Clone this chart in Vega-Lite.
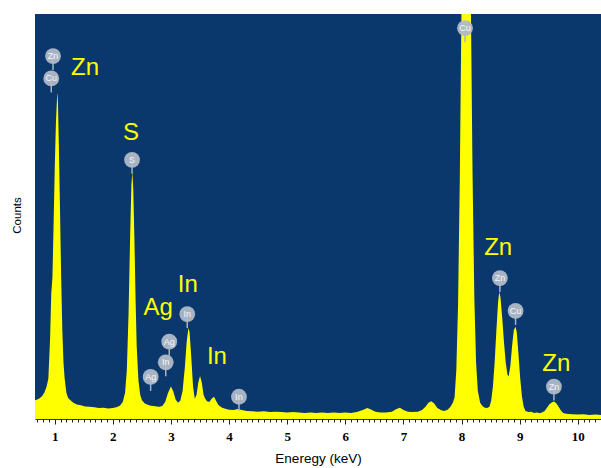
{
  "$schema": "https://vega.github.io/schema/vega-lite/v6.json",
  "width": 566,
  "height": 405,
  "autosize": "none",
  "padding": {"left": 35, "top": 14, "right": 0, "bottom": 49},
  "background": "white",
  "config": {"view": {"fill": "#0B386C", "stroke": null}},
  "datasets": {
    "spectrum": [
      {"keV":0.66,"counts":4.6},{"keV":0.70,"counts":4.8},{"keV":0.74,"counts":5.1},{"keV":0.78,"counts":5.6},{"keV":0.82,"counts":6.5},{"keV":0.86,"counts":8.0},{"keV":0.89,"counts":10},{"keV":0.92,"counts":20},{"keV":0.94,"counts":31},{"keV":0.96,"counts":35},{"keV":0.98,"counts":48},{"keV":1.00,"counts":62},{"keV":1.02,"counts":73},{"keV":1.04,"counts":79.5},{"keV":1.046,"counts":80.6},{"keV":1.055,"counts":78},{"keV":1.07,"counts":68},{"keV":1.09,"counts":52},{"keV":1.11,"counts":35},{"keV":1.13,"counts":22},{"keV":1.15,"counts":14},{"keV":1.17,"counts":10},{"keV":1.20,"counts":6.5},{"keV":1.23,"counts":5.2},{"keV":1.27,"counts":4.6},{"keV":1.32,"counts":4.0},{"keV":1.38,"counts":3.6},{"keV":1.45,"counts":3.4},{"keV":1.52,"counts":3.1},{"keV":1.60,"counts":3.0},{"keV":1.68,"counts":2.9},{"keV":1.76,"counts":2.7},{"keV":1.84,"counts":2.8},{"keV":1.92,"counts":2.6},{"keV":2.00,"counts":2.7},{"keV":2.06,"counts":2.9},{"keV":2.12,"counts":3.3},{"keV":2.17,"counts":4.2},{"keV":2.21,"counts":6.5},{"keV":2.24,"counts":12},{"keV":2.27,"counts":26},{"keV":2.30,"counts":47},{"keV":2.32,"counts":58},{"keV":2.335,"counts":61},{"keV":2.35,"counts":57},{"keV":2.37,"counts":45},{"keV":2.39,"counts":30},{"keV":2.41,"counts":18},{"keV":2.44,"counts":9.5},{"keV":2.47,"counts":6},{"keV":2.50,"counts":4.6},{"keV":2.55,"counts":3.8},{"keV":2.60,"counts":3.5},{"keV":2.65,"counts":3.3},{"keV":2.70,"counts":3.2},{"keV":2.75,"counts":3.1},{"keV":2.80,"counts":3.0},{"keV":2.85,"counts":3.2},{"keV":2.90,"counts":4.2},{"keV":2.95,"counts":6.5},{"keV":3.00,"counts":8.0},{"keV":3.04,"counts":6.8},{"keV":3.08,"counts":4.8},{"keV":3.12,"counts":4.0},{"keV":3.16,"counts":4.5},{"keV":3.20,"counts":7},{"keV":3.24,"counts":13},{"keV":3.27,"counts":19},{"keV":3.30,"counts":22.5},{"keV":3.32,"counts":21.5},{"keV":3.35,"counts":15},{"keV":3.38,"counts":8},{"keV":3.41,"counts":5},{"keV":3.44,"counts":6},{"keV":3.47,"counts":9},{"keV":3.50,"counts":10.6},{"keV":3.53,"counts":9},{"keV":3.56,"counts":6},{"keV":3.59,"counts":5},{"keV":3.62,"counts":4.4},{"keV":3.66,"counts":4.2},{"keV":3.70,"counts":5},{"keV":3.74,"counts":5.5},{"keV":3.78,"counts":4.4},{"keV":3.82,"counts":3.4},{"keV":3.88,"counts":2.8},{"keV":3.95,"counts":2.5},{"keV":4.00,"counts":2.3},{"keV":4.08,"counts":2.2},{"keV":4.15,"counts":2.5},{"keV":4.22,"counts":2.2},{"keV":4.30,"counts":2.0},{"keV":4.4,"counts":1.9},{"keV":4.5,"counts":1.8},{"keV":4.6,"counts":1.9},{"keV":4.7,"counts":1.7},{"keV":4.8,"counts":1.8},{"keV":4.9,"counts":1.7},{"keV":5.0,"counts":1.6},{"keV":5.1,"counts":1.7},{"keV":5.2,"counts":1.6},{"keV":5.3,"counts":1.5},{"keV":5.4,"counts":1.6},{"keV":5.5,"counts":1.5},{"keV":5.6,"counts":1.6},{"keV":5.7,"counts":1.5},{"keV":5.8,"counts":1.6},{"keV":5.9,"counts":1.5},{"keV":6.0,"counts":1.6},{"keV":6.1,"counts":1.5},{"keV":6.2,"counts":1.7},{"keV":6.3,"counts":2.2},{"keV":6.38,"counts":2.7},{"keV":6.45,"counts":2.3},{"keV":6.52,"counts":1.8},{"keV":6.6,"counts":1.6},{"keV":6.7,"counts":1.6},{"keV":6.8,"counts":1.8},{"keV":6.88,"counts":2.5},{"keV":6.94,"counts":2.8},{"keV":7.0,"counts":2.2},{"keV":7.08,"counts":1.8},{"keV":7.15,"counts":1.7},{"keV":7.25,"counts":1.8},{"keV":7.32,"counts":2.2},{"keV":7.38,"counts":3.0},{"keV":7.43,"counts":4.0},{"keV":7.48,"counts":4.4},{"keV":7.53,"counts":3.8},{"keV":7.58,"counts":2.8},{"keV":7.64,"counts":2.2},{"keV":7.70,"counts":2.0},{"keV":7.76,"counts":2.3},{"keV":7.81,"counts":3.0},{"keV":7.85,"counts":4.0},{"keV":7.88,"counts":5.3},{"keV":7.91,"counts":12},{"keV":7.94,"counts":28},{"keV":7.97,"counts":59},{"keV":8.00,"counts":103},{"keV":8.03,"counts":153},{"keV":8.06,"counts":189},{"keV":8.08,"counts":197},{"keV":8.10,"counts":189},{"keV":8.13,"counts":153},{"keV":8.16,"counts":103},{"keV":8.19,"counts":60},{"keV":8.22,"counts":30},{"keV":8.25,"counts":14},{"keV":8.28,"counts":7},{"keV":8.32,"counts":4},{"keV":8.36,"counts":3.2},{"keV":8.40,"counts":2.8},{"keV":8.44,"counts":2.7},{"keV":8.48,"counts":3},{"keV":8.51,"counts":4.5},{"keV":8.54,"counts":8},{"keV":8.57,"counts":14},{"keV":8.60,"counts":22},{"keV":8.63,"counts":29},{"keV":8.65,"counts":31.4},{"keV":8.67,"counts":30},{"keV":8.70,"counts":25},{"keV":8.73,"counts":19},{"keV":8.76,"counts":14},{"keV":8.79,"counts":11},{"keV":8.81,"counts":10.5},{"keV":8.84,"counts":13},{"keV":8.87,"counts":18},{"keV":8.90,"counts":22},{"keV":8.93,"counts":22.8},{"keV":8.95,"counts":21.5},{"keV":8.98,"counts":16},{"keV":9.01,"counts":10},{"keV":9.04,"counts":5.5},{"keV":9.07,"counts":3},{"keV":9.10,"counts":2},{"keV":9.15,"counts":1.7},{"keV":9.20,"counts":1.8},{"keV":9.25,"counts":1.5},{"keV":9.30,"counts":1.6},{"keV":9.35,"counts":1.4},{"keV":9.40,"counts":1.7},{"keV":9.43,"counts":2},{"keV":9.47,"counts":2.8},{"keV":9.51,"counts":3.6},{"keV":9.55,"counts":4.1},{"keV":9.59,"counts":4.3},{"keV":9.63,"counts":3.9},{"keV":9.67,"counts":3},{"keV":9.71,"counts":2.1},{"keV":9.75,"counts":1.5},{"keV":9.80,"counts":1.3},{"keV":9.90,"counts":1.2},{"keV":10.00,"counts":1.1},{"keV":10.10,"counts":1.2},{"keV":10.20,"counts":1.0},{"keV":10.30,"counts":1.1},{"keV":10.40,"counts":1.0}
    ],
    "markers": [
      {"keV":0.97,"counts":89.6,"element":"Zn"},
      {"keV":0.94,"counts":84.1,"element":"Cu"},
      {"keV":2.33,"counts":64,"element":"S"},
      {"keV":2.65,"counts":10.4,"element":"Ag"},
      {"keV":2.91,"counts":14,"element":"In"},
      {"keV":2.97,"counts":19.1,"element":"Ag"},
      {"keV":3.28,"counts":25.9,"element":"In"},
      {"keV":4.17,"counts":5.5,"element":"In"},
      {"keV":8.06,"counts":96.5,"element":"Cu"},
      {"keV":8.66,"counts":34.8,"element":"Zn"},
      {"keV":8.93,"counts":26.7,"element":"Cu"},
      {"keV":9.59,"counts":8,"element":"Zn"}
    ],
    "labels": [
      {"keV":1.52,"counts":86.7,"element":"Zn"},
      {"keV":2.31,"counts":70.6,"element":"S"},
      {"keV":2.78,"counts":27.5,"element":"Ag"},
      {"keV":3.29,"counts":33.1,"element":"In"},
      {"keV":3.79,"counts":15.3,"element":"In"},
      {"keV":8.63,"counts":42.2,"element":"Zn"},
      {"keV":9.63,"counts":13.6,"element":"Zn"}
    ]
  },
  "layer": [
    {
      "data": {"name": "spectrum"},
      "mark": {"type": "area", "color": "#FFFF00", "clip": true, "interpolate": "linear"},
      "encoding": {
        "x": {
          "field": "keV", "type": "quantitative",
          "scale": {"domain": [0.66, 10.4], "nice": false, "zero": false},
          "axis": {
            "values": [0.7,0.8,0.9,1,1.1,1.2,1.3,1.4,1.5,1.6,1.7,1.8,1.9,2,2.1,2.2,2.3,2.4,2.5,2.6,2.7,2.8,2.9,3,3.1,3.2,3.3,3.4,3.5,3.6,3.7,3.8,3.9,4,4.1,4.2,4.3,4.4,4.5,4.6,4.7,4.8,4.9,5,5.1,5.2,5.3,5.4,5.5,5.6,5.7,5.8,5.9,6,6.1,6.2,6.3,6.4,6.5,6.6,6.7,6.8,6.9,7,7.1,7.2,7.3,7.4,7.5,7.6,7.7,7.8,7.9,8,8.1,8.2,8.3,8.4,8.5,8.6,8.7,8.8,8.9,9,9.1,9.2,9.3,9.4,9.5,9.6,9.7,9.8,9.9,10,10.1,10.2,10.3,10.4],
            "tickCount": 500,
            "labelExpr": "abs(datum.value - round(datum.value)) < 0.001 ? format(datum.value, 'd') : ''",
            "tickSize": {"condition": {"test": "abs(datum.value - round(datum.value)) < 0.001", "value": 5}, "value": 3},
            "tickColor": "#222222",
            "domainColor": "#333333",
            "labelFont": "Liberation Sans Narrow",
            "labelFontWeight": "bold",
            "labelFontSize": 13,
            "labelColor": "black",
            "labelPadding": 6,
            "labelOverlap": false,
            "labelFlush": false,
            "grid": false,
            "title": "Eneregy (keV)",
            "titleFont": "Liberation Sans",
            "titleFontSize": 13.5,
            "titleFontWeight": "normal",
            "titleColor": "black",
            "titleY": 39,
            "titleBaseline": "middle"
          }
        },
        "y": {
          "field": "counts", "type": "quantitative",
          "scale": {"domain": [0, 100], "nice": false},
          "axis": {
            "title": "Counts",
            "labels": false, "ticks": false, "domain": false, "grid": false,
            "titleFont": "Liberation Sans", "titleFontSize": 11.5, "titleFontWeight": "normal", "titleColor": "black",
            "titleX": -18, "titleY": 201, "titleAngle": -90, "titleAlign": "center", "titleBaseline": "middle"
          }
        }
      }
    },
    {
      "data": {"name": "markers"},
      "mark": {"type": "rule", "color": "#A9B3C3", "strokeWidth": 1.5, "y2Offset": 14},
      "encoding": {
        "x": {"field": "keV", "type": "quantitative"},
        "y": {"field": "counts", "type": "quantitative"},
        "y2": {"field": "counts"}
      }
    },
    {
      "data": {"name": "markers"},
      "mark": {"type": "circle", "size": 250, "color": "#B0B9C8", "opacity": 0.95},
      "encoding": {
        "x": {"field": "keV", "type": "quantitative"},
        "y": {"field": "counts", "type": "quantitative"}
      }
    },
    {
      "data": {"name": "markers"},
      "mark": {"type": "text", "color": "#F4F6FA", "fontSize": 9, "font": "Liberation Sans"},
      "encoding": {
        "x": {"field": "keV", "type": "quantitative"},
        "y": {"field": "counts", "type": "quantitative"},
        "text": {"field": "element"}
      }
    },
    {
      "data": {"name": "labels"},
      "mark": {"type": "text", "color": "#FFFF00", "fontSize": 24, "font": "Liberation Sans"},
      "encoding": {
        "x": {"field": "keV", "type": "quantitative"},
        "y": {"field": "counts", "type": "quantitative"},
        "text": {"field": "element"}
      }
    }
  ]
}
